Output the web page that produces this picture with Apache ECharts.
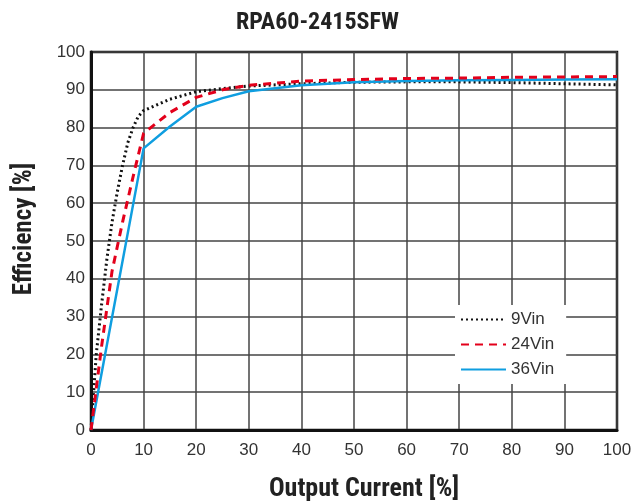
<!DOCTYPE html>
<html><head><meta charset="utf-8">
<script src="https://cdn.jsdelivr.net/npm/echarts@6/dist/echarts.min.js"></script>
<style>html,body{margin:0;padding:0;background:#fff}#c{width:635px;height:501px}</style>
</head><body><div id="c"></div>
<script>
const title = 'RPA60-2415SFW';
const xName = 'Output Current [%]';
const yName = 'Efficiency [%]';
const seriesNames = ['9Vin', '24Vin', '36Vin'];
const load9 = [0, 1, 2, 3, 4, 5, 6, 7, 8, 9, 10, 15, 20, 25, 30, 40, 50, 60, 70, 80, 90, 100];
const eff9  = [0, 20, 33, 45, 55, 63, 70, 76, 80, 83, 84.5, 87.5, 89.5, 90.3, 91, 91.6, 92, 92.1, 92.1, 91.9, 91.6, 91.3];
const load24 = [0, 2, 4, 6, 8, 10, 15, 20, 25, 30, 40, 50, 60, 70, 80, 90, 100];
const eff24  = [0, 22, 42, 55, 67, 78.5, 84, 88, 90, 91.2, 92.3, 92.7, 93, 93.1, 93.3, 93.4, 93.5];
const load36 = [0, 10, 15, 20, 25, 30, 40, 50, 60, 70, 80, 90, 100];
const eff36  = [0, 74.5, 80.3, 85.5, 87.8, 89.6, 91.2, 92, 92.3, 92.5, 92.6, 92.7, 92.8];
const colors = ['#111111', '#e3001b', '#0f9ee0'];
const lineTypes = [[2, 3], [8, 6], 'solid'];
const widths = [3, 3, 2.5];
const COND = '"Roboto Condensed", "Liberation Sans Narrow", "Liberation Sans", Arial, sans-serif';
const REG = '"Liberation Sans", Arial, sans-serif';

const dataSets = [load9.map((x,i)=>[x,eff9[i]]), load24.map((x,i)=>[x,eff24[i]]), load36.map((x,i)=>[x,eff36[i]])];

const chart = echarts.init(document.getElementById('c'), null, {renderer:'canvas'});
chart.setOption({
  animation:false,
  title:{text:title, left:'center', top:6, textStyle:{fontFamily:COND, fontSize:24, fontWeight:'bold', color:'#222'}},
  grid:{left:91, right:18, top:52, bottom:71, show:true, borderColor:'#111', borderWidth:2.5, backgroundColor:'transparent',
    containLabel:false, outerBoundsMode:'none'},
  xAxis:{type:'value', min:0, max:100, interval:10, name:xName, nameLocation:'middle', nameGap:46,
    nameTextStyle:{fontFamily:COND, fontSize:26, fontWeight:'bold', color:'#222', padding:[0,0,0,20]},
    axisLine:{show:true, lineStyle:{color:'#111', width:3}}, axisTick:{show:false},
    axisLabel:{fontFamily:REG, fontSize:17, color:'#333', margin:12},
    splitLine:{show:true, lineStyle:{color:'#444', width:1.5}}},
  yAxis:{type:'value', min:0, max:100, interval:10, name:yName, nameLocation:'middle', nameGap:54,
    nameTextStyle:{fontFamily:COND, fontSize:25, fontWeight:'bold', color:'#222', padding:[0,0,0,24]},
    axisLine:{show:true, lineStyle:{color:'#111', width:3}}, axisTick:{show:false},
    axisLabel:{fontFamily:REG, fontSize:17, color:'#333', margin:6},
    splitLine:{show:true, lineStyle:{color:'#444', width:1.5}}},
  legend:{orient:'vertical', left:455, top:305, backgroundColor:'#fff', padding:[6,12,6,5], itemGap:8,
    itemWidth:45, itemHeight:18, itemStyle:{opacity:0}, textStyle:{fontFamily:REG, fontSize:17, color:'#333'},
    data:seriesNames},
  series:seriesNames.map((n,i)=>({name:n, type:'line', data:dataSets[i], showSymbol:false, symbol:'none',
    smooth:false, lineStyle:{color:colors[i], width:widths[i], type:lineTypes[i]}, itemStyle:{color:colors[i]}, z:3+ (i===1?1:0)}))
});
</script></body></html>
